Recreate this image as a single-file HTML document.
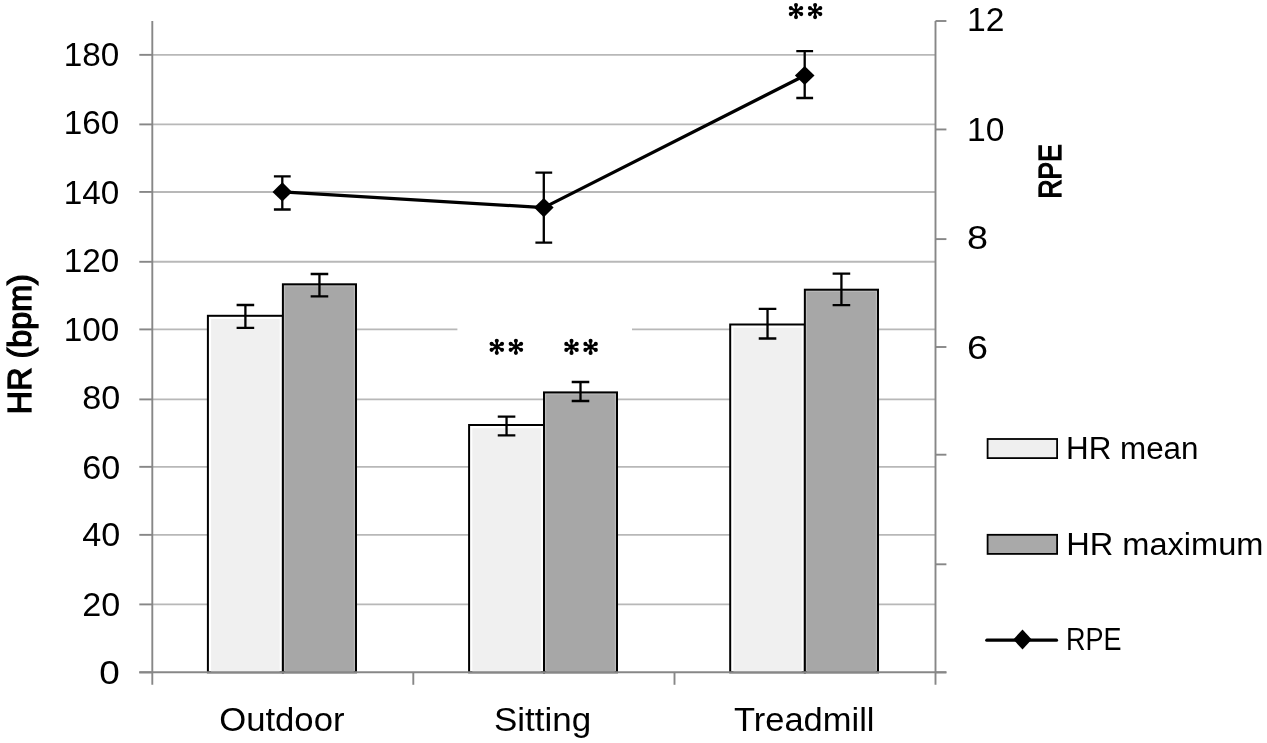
<!DOCTYPE html>
<html><head><meta charset="utf-8"><style>
html,body{margin:0;padding:0;background:#fff;overflow:hidden}
svg{display:block;will-change:transform}
text{font-family:"Liberation Sans", sans-serif;fill:#000}
</style></head><body>
<svg width="1267" height="743" viewBox="0 0 1267 743">
<rect x="0" y="0" width="1267" height="743" fill="#fff"/>
<line x1="152.3" y1="604.40" x2="935.5" y2="604.40" stroke="#b8b8b8" stroke-width="1.9"/>
<line x1="152.3" y1="534.85" x2="935.5" y2="534.85" stroke="#b8b8b8" stroke-width="1.9"/>
<line x1="152.3" y1="466.84" x2="935.5" y2="466.84" stroke="#b8b8b8" stroke-width="1.9"/>
<line x1="152.3" y1="399.40" x2="935.5" y2="399.40" stroke="#b8b8b8" stroke-width="1.9"/>
<line x1="152.3" y1="329.40" x2="935.5" y2="329.40" stroke="#b8b8b8" stroke-width="1.9"/>
<line x1="152.3" y1="261.80" x2="935.5" y2="261.80" stroke="#b8b8b8" stroke-width="1.9"/>
<line x1="152.3" y1="191.93" x2="935.5" y2="191.93" stroke="#b8b8b8" stroke-width="1.9"/>
<line x1="152.3" y1="124.40" x2="935.5" y2="124.40" stroke="#b8b8b8" stroke-width="1.9"/>
<line x1="152.3" y1="54.85" x2="935.5" y2="54.85" stroke="#b8b8b8" stroke-width="1.9"/>
<rect x="457.4" y="326.40" width="174.6" height="6" fill="#fff"/>
<line x1="152.3" y1="21.0" x2="152.3" y2="684.8" stroke="#878787" stroke-width="1.9"/>
<line x1="139.3" y1="672.40" x2="152.3" y2="672.40" stroke="#878787" stroke-width="1.9"/>
<line x1="139.3" y1="604.40" x2="152.3" y2="604.40" stroke="#878787" stroke-width="1.9"/>
<line x1="139.3" y1="534.85" x2="152.3" y2="534.85" stroke="#878787" stroke-width="1.9"/>
<line x1="139.3" y1="466.84" x2="152.3" y2="466.84" stroke="#878787" stroke-width="1.9"/>
<line x1="139.3" y1="399.40" x2="152.3" y2="399.40" stroke="#878787" stroke-width="1.9"/>
<line x1="139.3" y1="329.40" x2="152.3" y2="329.40" stroke="#878787" stroke-width="1.9"/>
<line x1="139.3" y1="261.80" x2="152.3" y2="261.80" stroke="#878787" stroke-width="1.9"/>
<line x1="139.3" y1="191.93" x2="152.3" y2="191.93" stroke="#878787" stroke-width="1.9"/>
<line x1="139.3" y1="124.40" x2="152.3" y2="124.40" stroke="#878787" stroke-width="1.9"/>
<line x1="139.3" y1="54.85" x2="152.3" y2="54.85" stroke="#878787" stroke-width="1.9"/>
<line x1="413.3" y1="672.3" x2="413.3" y2="684.8" stroke="#878787" stroke-width="1.9"/>
<line x1="674.5" y1="672.3" x2="674.5" y2="684.8" stroke="#878787" stroke-width="1.9"/>
<line x1="935.5" y1="21.0" x2="935.5" y2="684.8" stroke="#878787" stroke-width="1.9"/>
<line x1="935.5" y1="21.00" x2="946.4" y2="21.00" stroke="#878787" stroke-width="1.9"/>
<line x1="935.5" y1="129.45" x2="946.4" y2="129.45" stroke="#878787" stroke-width="1.9"/>
<line x1="935.5" y1="239.10" x2="946.4" y2="239.10" stroke="#878787" stroke-width="1.9"/>
<line x1="935.5" y1="347.00" x2="946.4" y2="347.00" stroke="#878787" stroke-width="1.9"/>
<line x1="935.5" y1="454.70" x2="946.4" y2="454.70" stroke="#878787" stroke-width="1.9"/>
<line x1="935.5" y1="564.30" x2="946.4" y2="564.30" stroke="#878787" stroke-width="1.9"/>
<line x1="935.5" y1="672.40" x2="946.4" y2="672.40" stroke="#878787" stroke-width="1.9"/>
<rect x="207.9" y="315.8" width="75.00" height="356.50" fill="#fff" stroke="#000" stroke-width="2"/>
<rect x="211.10" y="319.00" width="68.60" height="353.30" fill="#f0f0f0"/>
<rect x="282.9" y="284.3" width="73.10" height="388.00" fill="#bababa" stroke="#000" stroke-width="2"/>
<rect x="285.10" y="286.50" width="68.70" height="385.80" fill="#a7a7a7"/>
<path d="M236.60 305.0H254.20M245.40 305.0V327.8M236.60 327.8H254.20" stroke="#000" stroke-width="2.3" fill="none"/>
<path d="M310.65 274.0H328.25M319.45 274.0V296.4M310.65 296.4H328.25" stroke="#000" stroke-width="2.3" fill="none"/>
<rect x="469.1" y="425.0" width="74.90" height="247.30" fill="#fff" stroke="#000" stroke-width="2"/>
<rect x="472.30" y="428.20" width="68.50" height="244.10" fill="#f0f0f0"/>
<rect x="544.0" y="392.4" width="73.00" height="279.90" fill="#bababa" stroke="#000" stroke-width="2"/>
<rect x="546.20" y="394.60" width="68.60" height="277.70" fill="#a7a7a7"/>
<path d="M497.75 416.6H515.35M506.55 416.6V435.4M497.75 435.4H515.35" stroke="#000" stroke-width="2.3" fill="none"/>
<path d="M571.70 382.0H589.30M580.50 382.0V401.0M571.70 401.0H589.30" stroke="#000" stroke-width="2.3" fill="none"/>
<rect x="730.2" y="324.5" width="74.65" height="347.80" fill="#fff" stroke="#000" stroke-width="2"/>
<rect x="733.40" y="327.70" width="68.25" height="344.60" fill="#f0f0f0"/>
<rect x="804.85" y="289.7" width="73.15" height="382.60" fill="#bababa" stroke="#000" stroke-width="2"/>
<rect x="807.05" y="291.90" width="68.75" height="380.40" fill="#a7a7a7"/>
<path d="M758.73 308.8H776.33M767.53 308.8V338.5M758.73 338.5H776.33" stroke="#000" stroke-width="2.3" fill="none"/>
<path d="M832.62 273.7H850.22M841.42 273.7V305.2M832.62 305.2H850.22" stroke="#000" stroke-width="2.3" fill="none"/>
<line x1="139.3" y1="672.3" x2="946.4" y2="672.3" stroke="#878787" stroke-width="1.9"/>
<path d="M273.90 176.4H290.70M282.30 176.4V209.5M273.90 209.5H290.70" stroke="#000" stroke-width="2.3" fill="none"/>
<path d="M535.40 172.7H552.20M543.80 172.7V242.7M535.40 242.7H552.20" stroke="#000" stroke-width="2.3" fill="none"/>
<path d="M796.30 51.1H813.10M804.70 51.1V98.0M796.30 98.0H813.10" stroke="#000" stroke-width="2.3" fill="none"/>
<polyline points="282.3,191.9 543.8,207.6 804.7,75.5" fill="none" stroke="#000" stroke-width="3.2" stroke-linejoin="round"/>
<path d="M282.3 182.3L292.1 191.9L282.3 201.5L272.5 191.9Z" fill="#000"/>
<path d="M543.8 198.0L553.5999999999999 207.6L543.8 217.2L534.0 207.6Z" fill="#000"/>
<path d="M804.7 65.9L814.5 75.5L804.7 85.1L794.9000000000001 75.5Z" fill="#000"/>
<text x="119.8" y="683.70" font-size="33.5" text-anchor="end" textLength="20.5" lengthAdjust="spacingAndGlyphs">0</text>
<text x="120.3" y="615.90" font-size="33.5" text-anchor="end" textLength="38.0" lengthAdjust="spacingAndGlyphs">20</text>
<text x="120.3" y="546.20" font-size="33.5" text-anchor="end" textLength="38.0" lengthAdjust="spacingAndGlyphs">40</text>
<text x="120.3" y="478.60" font-size="33.5" text-anchor="end" textLength="38.0" lengthAdjust="spacingAndGlyphs">60</text>
<text x="120.3" y="409.20" font-size="33.5" text-anchor="end" textLength="38.0" lengthAdjust="spacingAndGlyphs">80</text>
<text x="119.3" y="341.15" font-size="33.5" text-anchor="end" textLength="55.5" lengthAdjust="spacingAndGlyphs">100</text>
<text x="119.3" y="271.50" font-size="33.5" text-anchor="end" textLength="55.5" lengthAdjust="spacingAndGlyphs">120</text>
<text x="119.3" y="203.70" font-size="33.5" text-anchor="end" textLength="55.5" lengthAdjust="spacingAndGlyphs">140</text>
<text x="119.3" y="134.25" font-size="33.5" text-anchor="end" textLength="55.5" lengthAdjust="spacingAndGlyphs">160</text>
<text x="119.3" y="66.45" font-size="33.5" text-anchor="end" textLength="55.5" lengthAdjust="spacingAndGlyphs">180</text>
<text x="967.0" y="31.35" font-size="33.5" text-anchor="start" textLength="37.4" lengthAdjust="spacingAndGlyphs">12</text>
<text x="967.0" y="141.20" font-size="33.5" text-anchor="start" textLength="37.4" lengthAdjust="spacingAndGlyphs">10</text>
<text x="967.0" y="249.20" font-size="33.5" text-anchor="start" textLength="21.0" lengthAdjust="spacingAndGlyphs">8</text>
<text x="967.0" y="358.50" font-size="33.5" text-anchor="start" textLength="21.0" lengthAdjust="spacingAndGlyphs">6</text>
<text x="219.2" y="731.2" font-size="33.7" text-anchor="start" textLength="125.3" lengthAdjust="spacingAndGlyphs">Outdoor</text>
<text x="494.0" y="731.2" font-size="33.7" text-anchor="start" textLength="97.2" lengthAdjust="spacingAndGlyphs">Sitting</text>
<text x="734.0" y="731.2" font-size="33.7" text-anchor="start" textLength="140.5" lengthAdjust="spacingAndGlyphs">Treadmill</text>
<rect x="987.6" y="439" width="69.5" height="19.1" fill="#efefef" stroke="#000" stroke-width="1.8"/>
<rect x="987.6" y="534.8" width="69.5" height="19.1" fill="#a9a9a9" stroke="#000" stroke-width="1.8"/>
<line x1="986.8" y1="640.2" x2="1056.5" y2="640.2" stroke="#000" stroke-width="3.2" stroke-linecap="round"/>
<path d="M1022.5 629.6L1031.7 639.5L1022.5 649.4L1013.3 639.5Z" fill="#000"/>
<text x="1066.0" y="459.0" font-size="30.8" text-anchor="start" textLength="132.5" lengthAdjust="spacingAndGlyphs">HR mean</text>
<text x="1066.2" y="554.6" font-size="30.8" text-anchor="start" textLength="197.3" lengthAdjust="spacingAndGlyphs">HR maximum</text>
<text x="1066.0" y="650.0" font-size="32" text-anchor="start" textLength="55.5" lengthAdjust="spacingAndGlyphs">RPE</text>
<path d="M496.80 340.85L496.80 352.85M491.60 343.85L502.00 349.85M502.00 343.85L491.60 349.85" stroke="#000" stroke-width="2.3" fill="none"/>
<circle cx="496.80" cy="352.85" r="2.05" fill="#000"/>
<circle cx="491.60" cy="349.85" r="2.05" fill="#000"/>
<circle cx="491.60" cy="343.85" r="2.05" fill="#000"/>
<circle cx="496.80" cy="340.85" r="2.05" fill="#000"/>
<circle cx="502.00" cy="343.85" r="2.05" fill="#000"/>
<circle cx="502.00" cy="349.85" r="2.05" fill="#000"/>
<path d="M515.90 340.85L515.90 352.85M510.70 343.85L521.10 349.85M521.10 343.85L510.70 349.85" stroke="#000" stroke-width="2.3" fill="none"/>
<circle cx="515.90" cy="352.85" r="2.05" fill="#000"/>
<circle cx="510.70" cy="349.85" r="2.05" fill="#000"/>
<circle cx="510.70" cy="343.85" r="2.05" fill="#000"/>
<circle cx="515.90" cy="340.85" r="2.05" fill="#000"/>
<circle cx="521.10" cy="343.85" r="2.05" fill="#000"/>
<circle cx="521.10" cy="349.85" r="2.05" fill="#000"/>
<path d="M571.50 340.90L571.50 352.90M566.30 343.90L576.70 349.90M576.70 343.90L566.30 349.90" stroke="#000" stroke-width="2.3" fill="none"/>
<circle cx="571.50" cy="352.90" r="2.05" fill="#000"/>
<circle cx="566.30" cy="349.90" r="2.05" fill="#000"/>
<circle cx="566.30" cy="343.90" r="2.05" fill="#000"/>
<circle cx="571.50" cy="340.90" r="2.05" fill="#000"/>
<circle cx="576.70" cy="343.90" r="2.05" fill="#000"/>
<circle cx="576.70" cy="349.90" r="2.05" fill="#000"/>
<path d="M590.60 340.90L590.60 352.90M585.40 343.90L595.80 349.90M595.80 343.90L585.40 349.90" stroke="#000" stroke-width="2.3" fill="none"/>
<circle cx="590.60" cy="352.90" r="2.05" fill="#000"/>
<circle cx="585.40" cy="349.90" r="2.05" fill="#000"/>
<circle cx="585.40" cy="343.90" r="2.05" fill="#000"/>
<circle cx="590.60" cy="340.90" r="2.05" fill="#000"/>
<circle cx="595.80" cy="343.90" r="2.05" fill="#000"/>
<circle cx="595.80" cy="349.90" r="2.05" fill="#000"/>
<path d="M796.00 5.10L796.00 17.10M790.80 8.10L801.20 14.10M801.20 8.10L790.80 14.10" stroke="#000" stroke-width="2.3" fill="none"/>
<circle cx="796.00" cy="17.10" r="2.05" fill="#000"/>
<circle cx="790.80" cy="14.10" r="2.05" fill="#000"/>
<circle cx="790.80" cy="8.10" r="2.05" fill="#000"/>
<circle cx="796.00" cy="5.10" r="2.05" fill="#000"/>
<circle cx="801.20" cy="8.10" r="2.05" fill="#000"/>
<circle cx="801.20" cy="14.10" r="2.05" fill="#000"/>
<path d="M815.10 5.10L815.10 17.10M809.90 8.10L820.30 14.10M820.30 8.10L809.90 14.10" stroke="#000" stroke-width="2.3" fill="none"/>
<circle cx="815.10" cy="17.10" r="2.05" fill="#000"/>
<circle cx="809.90" cy="14.10" r="2.05" fill="#000"/>
<circle cx="809.90" cy="8.10" r="2.05" fill="#000"/>
<circle cx="815.10" cy="5.10" r="2.05" fill="#000"/>
<circle cx="820.30" cy="8.10" r="2.05" fill="#000"/>
<circle cx="820.30" cy="14.10" r="2.05" fill="#000"/>
<text x="0" y="0" font-size="34" font-weight="normal" stroke="#000" stroke-width="1.3" text-anchor="middle" textLength="140" lengthAdjust="spacingAndGlyphs" transform="translate(31.0,344.15) rotate(-90)">HR (bpm)</text>
<text x="0" y="0" font-size="31" font-weight="normal" stroke="#000" stroke-width="1.3" text-anchor="middle" textLength="54.5" lengthAdjust="spacingAndGlyphs" transform="translate(1060.8,171.3) rotate(-90)">RPE</text>
</svg>
</body></html>
